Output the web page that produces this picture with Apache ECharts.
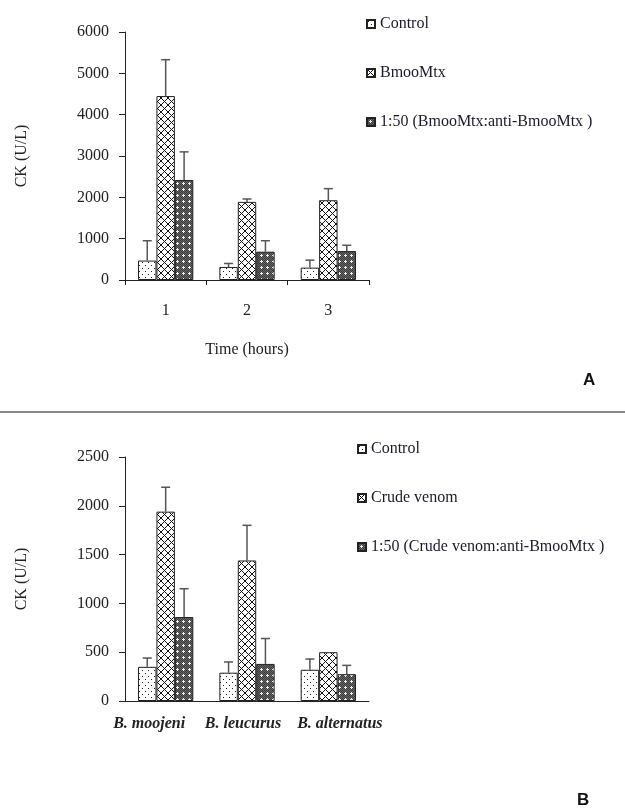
<!DOCTYPE html>
<html>
<head>
<meta charset="utf-8">
<script src="https://cdn.jsdelivr.net/npm/echarts@6/dist/echarts.min.js"></script>
<style>
html,body{margin:0;padding:0;background:#fff;}
#chart{width:625px;height:812px;}
</style>
</head>
<body>
<div id="chart"></div>
<script>
// ---- Data ----
const hoursCategories = ['1', '2', '3'];
const aControl = [470, 315, 300];
const aControlErr = [950, 400, 480];
const aBmoo = [4450, 1890, 1930];
const aBmooErr = [5330, 1960, 2210];
const aAnti = [2420, 685, 700];
const aAntiErr = [3100, 950, 840];
const aNames = ['Control', 'BmooMtx', '1:50 (BmooMtx:anti-BmooMtx )'];
const aTicks = [0, 1000, 2000, 3000, 4000, 5000, 6000];

const venomCategories = ['B. moojeni', 'B. leucurus', 'B. alternatus'];
const bControl = [350, 290, 320];
const bControlErr = [440, 400, 430];
const bCrude = [1940, 1440, 500];
const bCrudeErr = [2190, 1800, 500];
const bAnti = [860, 380, 275];
const bAntiErr = [1150, 640, 365];
const bNames = ['Control', 'Crude venom', '1:50 (Crude venom:anti-BmooMtx )'];
const bTicks = [0, 500, 1000, 1500, 2000, 2500];

// ---- Patterns ----
function pat(kind) {
  const c = document.createElement('canvas');
  const s = kind === 'cross' ? 7 : 6;
  c.width = s; c.height = s;
  const g = c.getContext('2d');
  if (kind === 'dots') {
    g.fillStyle = '#fff'; g.fillRect(0, 0, s, s);
    g.fillStyle = '#222';
    g.fillRect(1, 1, 1, 1); g.fillRect(4, 4, 1, 1);
  } else if (kind === 'cross') {
    g.fillStyle = '#fff'; g.fillRect(0, 0, s, s);
    g.strokeStyle = '#111'; g.lineWidth = 1;
    g.beginPath();
    g.moveTo(0, 0); g.lineTo(s, s);
    g.moveTo(s, 0); g.lineTo(0, s);
    g.stroke();
  } else {
    g.fillStyle = '#666'; g.fillRect(0, 0, s, s);
    g.fillStyle = '#3c3c3c';
    for (let i = 0; i < s; i++) for (let j = 0; j < s; j++) if ((i + j) % 2 === 0) g.fillRect(i, j, 1, 1);
    g.fillStyle = '#eee';
    g.fillRect(3, 2, 1, 3); g.fillRect(2, 3, 3, 1);
  }
  return { image: c, repeat: 'repeat' };
}
const fills = [pat('dots'), pat('cross'), pat('dark')];

const GAP = 0.32;
const serif = 'Liberation Serif';
const FS = 16;

function barSeries(name, data, idx, gridIdx) {
  return {
    name: name, type: 'bar', xAxisIndex: gridIdx, yAxisIndex: gridIdx,
    data: data, barGap: '0%', barCategoryGap: (GAP * 100) + '%',
    itemStyle: { color: fills[idx], borderColor: '#222', borderWidth: 1 },
    emphasis: { disabled: true }, z: 2
  };
}

function errSeries(values, tops, idx, gridIdx) {
  return {
    type: 'custom', xAxisIndex: gridIdx, yAxisIndex: gridIdx, z: 3,
    silent: true,
    data: values.map((v, i) => [i, v, tops[i]]),
    encode: { x: 0, y: 2 },
    renderItem: function (params, api) {
      const ci = api.value(0), v = api.value(1), t = api.value(2);
      if (t <= v) return null;
      const catW = api.size([1, 0])[0];
      const groupW = catW * (1 - GAP);
      const bw = groupW / 3;
      const x = api.coord([ci, 0])[0] - groupW / 2 + bw * (idx + 0.5);
      const y0 = api.coord([ci, v])[1];
      const y1 = api.coord([ci, t])[1];
      const st = { stroke: '#555', lineWidth: 1.5 };
      return {
        type: 'group',
        children: [
          { type: 'line', shape: { x1: x, y1: y0, x2: x, y2: y1 }, style: st },
          { type: 'line', shape: { x1: x - 4.5, y1: y1, x2: x + 4.5, y2: y1 }, style: st }
        ]
      };
    }
  };
}

const axisLine = { show: true, lineStyle: { color: '#222', width: 1 } };
const tickLbl = { fontFamily: serif, fontSize: FS, color: '#222', formatter: v => String(v) };
const venomLbl = { fontFamily: serif, fontSize: FS, fontStyle: 'italic', fontWeight: 'bold', color: '#222' };

const chart = echarts.init(document.getElementById('chart'), null, { renderer: 'canvas' });
chart.setOption({
  backgroundColor: '#fff',
  animation: false,
  grid: [
    { left: 125, top: 32, width: 244, height: 248 },
    { left: 125, top: 457, width: 244, height: 244 }
  ],
  legend: [
    {
      data: aNames, orient: 'vertical', left: 366, top: 16, itemGap: 33, padding: 0,
      itemWidth: 8, itemHeight: 8, icon: 'rect', selectedMode: false,
      textStyle: { fontFamily: serif, fontSize: FS, color: '#1a1a2a' }
    },
    {
      data: bNames, orient: 'vertical', left: 357, top: 441, itemGap: 33, padding: 0,
      itemWidth: 8, itemHeight: 8, icon: 'rect', selectedMode: false,
      textStyle: { fontFamily: serif, fontSize: FS, color: '#1a1a2a' }
    }
  ],
  xAxis: [
    {
      type: 'category', gridIndex: 0, data: hoursCategories,
      axisLine: axisLine,
      axisTick: { show: true, length: 5, alignWithLabel: false, lineStyle: { color: '#222' } },
      axisLabel: Object.assign({}, tickLbl, { margin: 23 }),
      name: 'Time (hours)', nameLocation: 'middle', nameGap: 62,
      nameTextStyle: { fontFamily: serif, fontSize: FS, color: '#222' }
    },
    {
      type: 'category', gridIndex: 1, data: venomCategories,
      axisLine: axisLine,
      axisTick: { show: false },
      axisLabel: {
        margin: 15, interval: 0,
        formatter: (v, i) => '{s' + i + '|' + v + '}',
        rich: {
          s0: Object.assign({ padding: [0, 33, 0, 0] }, venomLbl),
          s1: Object.assign({ padding: [0, 8, 0, 0] }, venomLbl),
          s2: Object.assign({ padding: [0, 0, 0, 23] }, venomLbl)
        }
      }
    }
  ],
  yAxis: [
    {
      type: 'value', gridIndex: 0, min: aTicks[0], max: aTicks[aTicks.length - 1], interval: 1000,
      axisLine: axisLine, axisTick: { show: true, length: 6, lineStyle: { color: '#222' } },
      splitLine: { show: false },
      axisLabel: Object.assign({}, tickLbl, { margin: 16 }),
      name: 'CK (U/L)', nameLocation: 'middle', nameGap: 95, nameRotate: 90,
      nameTextStyle: { fontFamily: serif, fontSize: FS, color: '#222' }
    },
    {
      type: 'value', gridIndex: 1, min: bTicks[0], max: bTicks[bTicks.length - 1], interval: 500,
      axisLine: axisLine, axisTick: { show: true, length: 6, lineStyle: { color: '#222' } },
      splitLine: { show: false },
      axisLabel: Object.assign({}, tickLbl, { margin: 16 }),
      name: 'CK (U/L)', nameLocation: 'middle', nameGap: 95, nameRotate: 90,
      nameTextStyle: { fontFamily: serif, fontSize: FS, color: '#222' }
    }
  ],
  graphic: [
    { type: 'line', shape: { x1: 0, y1: 412, x2: 625, y2: 412 }, style: { stroke: '#888', lineWidth: 2 } },
    { type: 'text', left: 583, top: 372, style: { text: 'A', font: 'bold 17px "Liberation Sans"', fill: '#111' } },
    { type: 'text', left: 577, top: 792, style: { text: 'B', font: 'bold 17px "Liberation Sans"', fill: '#111' } }
  ],
  series: [
    barSeries(aNames[0], aControl, 0, 0),
    barSeries(aNames[1], aBmoo, 1, 0),
    barSeries(aNames[2], aAnti, 2, 0),
    errSeries(aControl, aControlErr, 0, 0),
    errSeries(aBmoo, aBmooErr, 1, 0),
    errSeries(aAnti, aAntiErr, 2, 0),
    barSeries(bNames[0], bControl, 0, 1),
    barSeries(bNames[1], bCrude, 1, 1),
    barSeries(bNames[2], bAnti, 2, 1),
    errSeries(bControl, bControlErr, 0, 1),
    errSeries(bCrude, bCrudeErr, 1, 1),
    errSeries(bAnti, bAntiErr, 2, 1)
  ]
});
</script>
</body>
</html>
